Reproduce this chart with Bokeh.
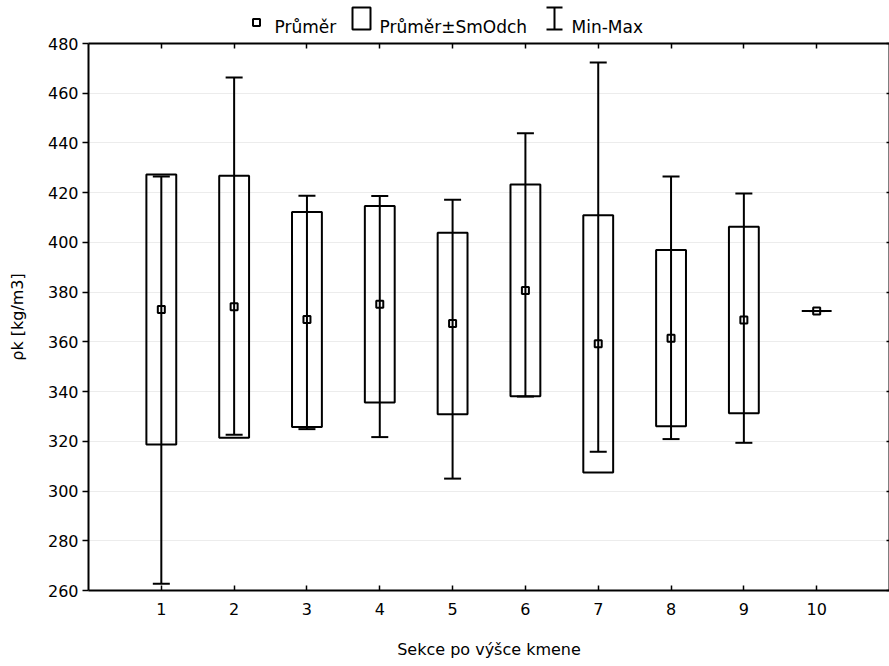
from bokeh.plotting import figure
from bokeh.models import Range1d, FixedTicker, LinearAxis, ColumnDataSource, Whisker, TeeHead
from bokeh.layouts import column
from bokeh.embed import file_html
from bokeh.resources import INLINE
from bokeh.core.properties import value

# Wood density per stem height section: mean, standard deviation, min and max
sections = [1, 2, 3, 4, 5, 6, 7, 8, 9, 10]
means = [373.0, 374.1, 369.0, 375.1, 367.4, 380.7, 359.2, 361.5, 368.8, 372.4]
std_devs = [54.3, 52.7, 43.2, 39.5, 36.5, 42.6, 51.7, 35.4, 37.5, 0.0]
minimums = [262.7, 322.6, 324.9, 321.7, 305.0, 338.0, 315.8, 320.9, 319.4, 372.4]
maximums = [426.5, 466.3, 418.8, 418.7, 417.2, 443.9, 472.4, 426.5, 419.7, 372.4]
y_ticks = [260, 280, 300, 320, 340, 360, 380, 400, 420, 440, 460, 480]

legend_labels = ["Průměr", "Průměr±SmOdch", "Min-Max"]

FONT = "DejaVu Sans"
W = 889
LEG_H = 36
MAIN_H = 630
FRAME_LEFT = 88

lower = [m - s for m, s in zip(means, std_devs)]
upper = [m + s for m, s in zip(means, std_devs)]
src = ColumnDataSource(dict(x=sections, mean=means, lo=lower, hi=upper,
                            mn=minimums, mx=maximums))

p = figure(width=W, height=MAIN_H, x_range=Range1d(0, 11), y_range=Range1d(260, 480),
           output_backend="svg", toolbar_location=None,
           min_border_left=FRAME_LEFT, min_border_right=0, min_border_top=7,
           min_border_bottom=76,
           x_axis_label="Sekce po výšce kmene", y_axis_label="ρk [kg/m3]")
p.outline_line_color = None
p.background_fill_color = "white"
p.border_fill_color = "white"

p.xgrid.visible = False
p.ygrid.ticker = FixedTicker(ticks=y_ticks)
p.ygrid.grid_line_color = "#ececec"
p.ygrid.grid_line_width = 1


def style_axis(ax):
    ax.axis_line_color = "black"
    ax.axis_line_width = 2
    ax.major_tick_line_color = "black"
    ax.major_tick_line_width = 1.5
    ax.minor_tick_in = 0
    ax.minor_tick_out = 0
    ax.major_label_text_color = "black"
    ax.major_label_text_font = FONT
    ax.major_label_text_font_size = "16px"
    ax.axis_label_text_color = "black"
    ax.axis_label_text_font = FONT
    ax.axis_label_text_font_size = "16px"
    ax.axis_label_text_font_style = "normal"


def tick_only(ax):
    # frame edge carrying ticks but no labels
    ax.major_label_text_font_size = "0px"
    ax.major_label_text_color = None
    ax.major_label_standoff = 0


xax = p.xaxis[0]
style_axis(xax)
xax.ticker = FixedTicker(ticks=sections)
xax.major_tick_in = 5
xax.major_tick_out = 0
xax.major_label_standoff = 12
xax.axis_label_standoff = 22

yax = p.yaxis[0]
style_axis(yax)
yax.ticker = FixedTicker(ticks=y_ticks)
yax.major_tick_in = 0
yax.major_tick_out = 6
yax.major_label_standoff = 4
yax.axis_label_standoff = 18

top_ax = LinearAxis(ticker=FixedTicker(ticks=sections))
style_axis(top_ax)
top_ax.major_tick_in = 5
top_ax.major_tick_out = 0
tick_only(top_ax)
p.add_layout(top_ax, "above")

right_ax = LinearAxis(ticker=FixedTicker(ticks=y_ticks))
style_axis(right_ax)
right_ax.major_tick_in = 3
right_ax.major_tick_out = 0
tick_only(right_ax)
p.add_layout(right_ax, "right")

# mean ± SD boxes
p.vbar(x="x", width=0.41, bottom="lo", top="hi", source=src,
       fill_color=None, line_color="black", line_width=2)

# min-max whiskers
whisk = Whisker(base="x", lower="mn", upper="mx", source=src,
                line_color="black", line_width=2, level="glyph",
                upper_head=TeeHead(size=17, line_color="black", line_width=2),
                lower_head=TeeHead(size=17, line_color="black", line_width=2))
p.add_layout(whisk)

# mean markers
p.scatter("x", "mean", source=src, marker="square", size=7,
          fill_color=None, line_color="black", line_width=2)

# legend strip above the plot (its frame lines up with the plot frame)
leg = figure(width=W, height=LEG_H, x_range=Range1d(FRAME_LEFT, W), y_range=Range1d(LEG_H, 0),
             output_backend="svg", toolbar_location=None, min_border=0,
             min_border_left=FRAME_LEFT,
             x_axis_location=None, y_axis_location=None)
leg.outline_line_color = None
leg.grid.visible = False

leg.scatter([256], [22], marker="square", size=7, fill_color=None,
            line_color="black", line_width=2)
leg.quad(left=[352], right=[370], top=[7], bottom=[29], fill_color=None,
         line_color="black", line_width=2)
leg.segment(x0=[554, 546, 546], y0=[7, 7, 29], x1=[554, 562, 562], y1=[29, 7, 29],
            line_color="black", line_width=2)
leg.text(x=[274, 379, 571], y=[26, 26, 26], text=legend_labels,
         text_font=value(FONT), text_font_size="17px", text_color="black",
         text_baseline="alphabetic", text_align="left")

layout = column(leg, p, spacing=0)

with open("out.html", "w") as f:
    f.write(file_html(layout, INLINE))
